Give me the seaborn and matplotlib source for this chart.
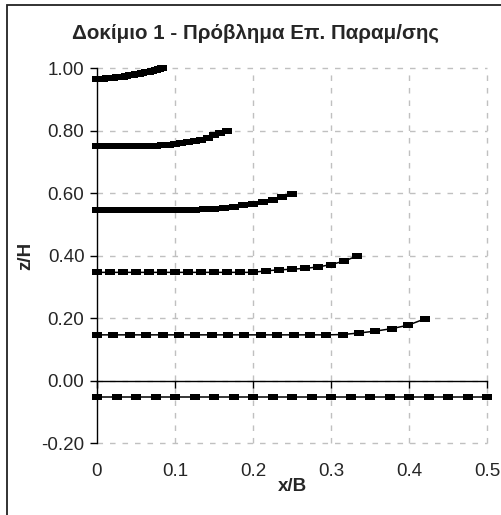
import numpy as np
import pandas as pd
import matplotlib
matplotlib.use("Agg")
import matplotlib.pyplot as plt
from matplotlib.patches import Rectangle
import seaborn as sns

sns.set_style("white")
plt.rcParams['font.family'] = ['Liberation Sans', 'DejaVu Sans']

title = "Δοκίμιο 1 - Πρόβλημα Επ. Παραμ/σης"
xlabel = "x/B"
ylabel = "z/H"

x1 = [0, 0.025, 0.05, 0.075, 0.1, 0.125, 0.15, 0.175, 0.2, 0.225, 0.25,
      0.275, 0.3, 0.325, 0.35, 0.375, 0.4, 0.425, 0.45, 0.475, 0.5]
y1 = [-0.052] * 21

x2 = [0, 0.021, 0.042, 0.063, 0.084, 0.105, 0.126, 0.147, 0.168, 0.189, 0.21,
      0.231, 0.252, 0.273, 0.294, 0.315, 0.336, 0.357, 0.378, 0.399, 0.42]
y2 = [0.147, 0.147, 0.147, 0.147, 0.147, 0.147, 0.147, 0.147, 0.147, 0.147, 0.147,
      0.147, 0.147, 0.147, 0.147, 0.148, 0.153, 0.159, 0.167, 0.178, 0.198]

x3 = [0, 0.017, 0.033, 0.05, 0.067, 0.083, 0.1, 0.117, 0.133, 0.15, 0.167,
      0.183, 0.2, 0.217, 0.233, 0.25, 0.267, 0.283, 0.3, 0.317, 0.333]
y3 = [0.347, 0.347, 0.347, 0.347, 0.347, 0.347, 0.347, 0.347, 0.347, 0.347, 0.347,
      0.347, 0.347, 0.352, 0.355, 0.357, 0.36, 0.364, 0.372, 0.383, 0.399]

x4 = [0, 0.0125, 0.025, 0.0375, 0.05, 0.0625, 0.075, 0.0875, 0.1, 0.1125, 0.125,
      0.1375, 0.15, 0.1625, 0.175, 0.1875, 0.2, 0.2125, 0.225, 0.2375, 0.25]
y4 = [0.545, 0.545, 0.545, 0.545, 0.545, 0.545, 0.545, 0.545, 0.545, 0.545, 0.547,
      0.549, 0.551, 0.554, 0.557, 0.561, 0.566, 0.571, 0.578, 0.587, 0.598]

x5 = [0, 0.0083, 0.0167, 0.025, 0.0333, 0.0417, 0.05, 0.0583, 0.0667, 0.075, 0.0833,
      0.0917, 0.1, 0.1083, 0.1167, 0.125, 0.1333, 0.1417, 0.15, 0.1583, 0.1667]
y5 = [0.75, 0.75, 0.75, 0.75, 0.75, 0.75, 0.75, 0.75, 0.75, 0.752, 0.754,
      0.756, 0.759, 0.762, 0.765, 0.768, 0.772, 0.778, 0.785, 0.792, 0.799]

x6 = [0, 0.0042, 0.0083, 0.0125, 0.0167, 0.0208, 0.025, 0.0292, 0.0333, 0.0375, 0.0417,
      0.0458, 0.05, 0.0542, 0.0583, 0.0625, 0.0667, 0.0708, 0.075, 0.0792, 0.0833]
y6 = [0.965, 0.966, 0.967, 0.968, 0.969, 0.97, 0.971, 0.972, 0.973, 0.975, 0.977,
      0.979, 0.981, 0.983, 0.985, 0.987, 0.989, 0.991, 0.994, 0.997, 1.0]

xticks = [0, 0.1, 0.2, 0.3, 0.4, 0.5]
xticklabels = ["0", "0.1", "0.2", "0.3", "0.4", "0.5"]
yticks = [-0.2, 0.0, 0.2, 0.4, 0.6, 0.8, 1.0]
yticklabels = ["-0.20", "0.00", "0.20", "0.40", "0.60", "0.80", "1.00"]

frames = []
for i, (xs, ys) in enumerate([(x1, y1), (x2, y2), (x3, y3), (x4, y4), (x5, y5), (x6, y6)]):
    frames.append(pd.DataFrame({"x": xs, "z": ys, "s": f"s{i+1}", "o": range(len(xs))}))
df = pd.concat(frames, ignore_index=True)

fig = plt.figure(figsize=(5.01, 5.15), dpi=100)
ax = fig.add_axes([97/501, 1 - 443.3/515, 390/501, 375/515])

grid_c = "#c0c0c0"
dash = (0, (4, 5))
for gx in xticks[1:]:
    ax.axvline(gx, color=grid_c, lw=1, ls=dash, zorder=0, clip_on=False)
for gy in yticks:
    ax.axhline(gy, color=grid_c, lw=1, ls=dash, zorder=0, clip_on=False)

rect_marker = [(-1, -0.7), (1, -0.7), (1, 0.7), (-1, 0.7), (-1, -0.7)]
sns.lineplot(data=df, x="x", y="z", hue="s", units="s", estimator=None, sort=False,
             palette=["black"] * 6, marker=rect_marker, markersize=7,
             markeredgewidth=0, lw=1.1, legend=False, ax=ax, zorder=3, clip_on=False)

ax.set_xlim(0, 0.5)
ax.set_ylim(-0.2, 1.0)

for s in ["top", "right"]:
    ax.spines[s].set_visible(False)
ax.spines["left"].set_color("black")
ax.spines["left"].set_linewidth(1)
ax.spines["bottom"].set_position(("data", 0))
ax.spines["bottom"].set_color("black")
ax.spines["bottom"].set_linewidth(1)

ax.set_xticks(xticks)
ax.tick_params(axis="x", direction="out", length=5, width=1, color="black",
               labelbottom=False, bottom=True)
ax.set_yticks(yticks)
ax.set_yticklabels(yticklabels)
ax.tick_params(axis="y", direction="out", length=5, width=1, color="black",
               labelsize=13.5, pad=4, left=True)

sec = ax.secondary_xaxis("bottom")
sec.set_xticks(xticks)
sec.set_xticklabels(xticklabels)
sec.tick_params(length=0, labelsize=13.5, pad=14)
sec.spines["bottom"].set_visible(False)
sec.set_xlabel(xlabel, fontsize=13.5, fontweight="bold", labelpad=-1)

ax.set_ylabel(ylabel, fontsize=13.5, fontweight="bold", labelpad=5)
ax.set_xlabel("")

fig.text(255/501, 1 - 33/515, title, ha="center", va="center",
         fontsize=14.8, fontweight="bold")

fig.patches.append(Rectangle((7/501, -0.5), 2, 1 - 5/515 + 0.5, transform=fig.transFigure,
                             fill=False, edgecolor="#222222", lw=1.3))

fig.savefig("out.png", dpi=100, facecolor="white")
